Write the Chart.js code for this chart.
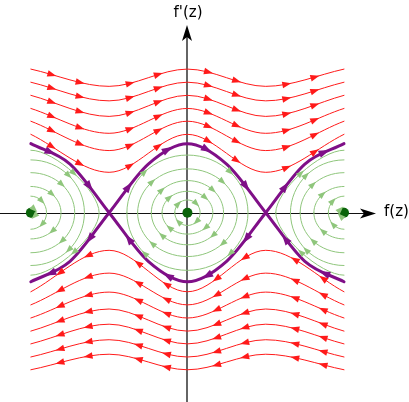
<!DOCTYPE html>
<html>
<head>
<meta charset="utf-8">
<script src="https://cdn.jsdelivr.net/npm/chart.js@4.4.1/dist/chart.umd.min.js"></script>
<style>
  html, body { margin: 0; padding: 0; background: #fff; }
  #wrap { width: 409px; height: 402px; }
</style>
</head>
<body>
<div id="wrap"><canvas id="phase" width="409" height="402"></canvas></div>
<script>
// f positions: -2pi .. 2pi in half periods
const phaseX = [-6.283, -3.142, 0, 3.142, 6.283];
// quarter-period positions used by the separatrix
const sepX = [-6.283, -4.712, -3.142, -1.571, 0, 1.571, 3.142, 4.712, 6.283];

// open orbits above the axis: f' at f = 0, +-2pi (peak) and f = +-pi (trough)
const upperPeak = [4.16, 3.78, 3.40, 3.02, 2.65, 2.27];
const upperTrough = [3.66, 3.24, 2.79, 2.30, 1.80, 1.17];

// open orbits below the axis
const lowerPeak = [-2.29, -2.67, -3.05, -3.43, -3.80, -4.18, -4.55];
const lowerTrough = [-1.09, -1.75, -2.30, -2.79, -3.23, -3.68, -4.10];

// separatrix f' at f = 0, +-pi/2, +-pi
const sepValues = [2.0, 1.41, 0];

// closed orbits round f = 0: half width (f) and height (f')
const innerWidth = [0.51, 1.02, 1.45, 2.00, 2.43];
const innerHeight = [0.37, 0.62, 0.93, 1.27, 1.67];
// closed orbits round f = +-2pi (only the inner half is inside the plot)
const sideWidth = [0.20, 0.63, 1.21, 1.76, 2.15, 2.74];
const sideHeight = [0.14, 0.48, 0.76, 1.16, 1.53, 1.81];

// equilibria on the f axis
const centers = [-6.283, 0, 6.283];

const RED = '#ff1a1a', GREEN = '#8fc67c', PURPLE = '#7f0f87', DOT = '#0a640a';

function wave(peak, trough) {
  const ys = [peak, trough, peak, trough, peak];
  return phaseX.map((x, i) => ({ x: x, y: ys[i] }));
}

// loop drawn bottom -> left -> top -> right -> bottom -> left -> top,
// only the inner segments get proper tangents, the outer two stay hidden
function ring(cx, a, b) {
  return [
    { x: cx, y: -b }, { x: cx - a, y: 0 }, { x: cx, y: b }, { x: cx + a, y: 0 },
    { x: cx, y: -b }, { x: cx - a, y: 0 }, { x: cx, y: b }
  ];
}

function segStyle(show) {
  return { borderColor: ctx => show.includes(ctx.p0DataIndex) ? undefined : 'rgba(0,0,0,0)' };
}

const datasets = [];

datasets.push({
  data: centers.map(x => ({ x: x, y: 0 })),
  showLine: false, pointRadius: 5, pointHoverRadius: 5,
  pointBackgroundColor: DOT, pointBorderColor: DOT, pointBorderWidth: 0
});

// separatrices
const hump = [sepValues[2], sepValues[1], sepValues[0], sepValues[1], sepValues[2]];
const sepUp = [
  [sepX.slice(0, 3), sepValues],
  [sepX.slice(2, 7), hump],
  [sepX.slice(6, 9), [sepValues[2], sepValues[1], sepValues[0]]]
];
[1, -1].forEach(sign => {
  sepUp.forEach(([xs, ys]) => {
    datasets.push({
      data: xs.map((x, i) => ({ x: x, y: sign * ys[i] })),
      borderColor: PURPLE, borderWidth: 3, cubicInterpolationMode: 'monotone',
      arrowSegs: xs.slice(1).map((_, i) => i), arrowDir: sign, arrowSize: [11, 3.8], arrowTs: [0.5]
    });
  });
});

upperPeak.forEach((p, i) => {
  datasets.push({
    data: wave(p, upperTrough[i]),
    borderColor: RED, borderWidth: 1, cubicInterpolationMode: 'monotone',
    arrowSegs: [0, 1, 2, 3], arrowDir: 1, arrowSize: [9, 3.3], arrowTs: [0.27, 0.63]
  });
});
lowerPeak.forEach((p, i) => {
  datasets.push({
    data: wave(p, lowerTrough[i]),
    borderColor: RED, borderWidth: 1, cubicInterpolationMode: 'monotone',
    arrowSegs: [0, 1, 2, 3], arrowDir: -1, arrowSize: [9, 3.3], arrowTs: [0.37, 0.73]
  });
});

innerWidth.forEach((a, i) => {
  datasets.push({
    data: ring(0, a, innerHeight[i]),
    borderColor: GREEN, borderWidth: 1, tension: 0.55,
    segment: segStyle([1, 2, 3, 4]),
    arrowSegs: [1, 2, 3, 4], arrowDir: 1, arrowSize: [8, 3], arrowTs: [0.5]
  });
});
sideWidth.forEach((a, i) => {
  const t = a > 2.5 ? 0.35 : 0.55;
  datasets.push({
    data: ring(centers[0], a, sideHeight[i]),
    borderColor: GREEN, borderWidth: 1, tension: t,
    segment: segStyle([2, 3]),
    arrowSegs: [2, 3], arrowDir: 1, arrowSize: [8, 3], arrowTs: [0.5]
  });
  datasets.push({
    data: ring(centers[2], a, sideHeight[i]),
    borderColor: GREEN, borderWidth: 1, tension: t,
    segment: segStyle([1, 4]),
    arrowSegs: [1, 4], arrowDir: 1, arrowSize: [8, 3], arrowTs: [0.5]
  });
});

const axesPlugin = {
  id: 'phaseAxes',
  beforeDatasetsDraw(chart) {
    const { ctx, scales: { x, y } } = chart;
    const px = Math.round(x.getPixelForValue(0));
    const py = Math.round(y.getPixelForValue(0)) + 0.5;
    ctx.save();
    ctx.strokeStyle = '#111';
    ctx.fillStyle = '#000';
    ctx.lineWidth = 1.3;
    ctx.beginPath();
    ctx.moveTo(px, chart.height);
    ctx.lineTo(px, 36);
    ctx.stroke();
    ctx.lineWidth = 1;
    ctx.beginPath();
    ctx.moveTo(0, py);
    ctx.lineTo(366, py);
    ctx.stroke();
    // arrow heads
    ctx.beginPath();
    ctx.moveTo(px, 25);
    ctx.lineTo(px + 5, 41);
    ctx.lineTo(px, 37);
    ctx.lineTo(px - 5, 41);
    ctx.closePath();
    ctx.fill();
    ctx.beginPath();
    ctx.moveTo(376, py);
    ctx.lineTo(360, py - 5);
    ctx.lineTo(364, py);
    ctx.lineTo(360, py + 5);
    ctx.closePath();
    ctx.fill();
    ctx.font = '15px "DejaVu Sans", sans-serif';
    ctx.textBaseline = 'middle';
    ctx.textAlign = 'center';
    ctx.fillText("f'(z)", px + 1, 13);
    ctx.textAlign = 'left';
    ctx.fillText('f(z)', 384, py - 1);
    ctx.restore();
  }
};

const arrowPlugin = {
  id: 'flowArrows',
  afterDatasetsDraw(chart) {
    const ctx = chart.ctx;
    chart.data.datasets.forEach((ds, di) => {
      if (!ds.arrowSegs) return;
      const pts = chart.getDatasetMeta(di).data;
      const [len, half] = ds.arrowSize;
      ctx.save();
      ctx.fillStyle = ds.borderColor;
      ds.arrowSegs.forEach(i => {
        const p0 = pts[i], p3 = pts[i + 1];
        if (!p0 || !p3) return;
        const p1 = { x: p0.cp2x ?? p0.x, y: p0.cp2y ?? p0.y };
        const p2 = { x: p3.cp1x ?? p3.x, y: p3.cp1y ?? p3.y };
        ds.arrowTs.forEach(t => {
          const u = 1 - t;
          const bx = u * u * u * p0.x + 3 * u * u * t * p1.x + 3 * u * t * t * p2.x + t * t * t * p3.x;
          const by = u * u * u * p0.y + 3 * u * u * t * p1.y + 3 * u * t * t * p2.y + t * t * t * p3.y;
          const dx = 3 * (u * u * (p1.x - p0.x) + 2 * u * t * (p2.x - p1.x) + t * t * (p3.x - p2.x));
          const dy = 3 * (u * u * (p1.y - p0.y) + 2 * u * t * (p2.y - p1.y) + t * t * (p3.y - p2.y));
          let ang = Math.atan2(dy, dx);
          if (ds.arrowDir < 0) ang += Math.PI;
          const c = Math.cos(ang), s = Math.sin(ang);
          ctx.beginPath();
          ctx.moveTo(bx + c * len / 2, by + s * len / 2);
          ctx.lineTo(bx - c * len / 2 - s * half, by - s * len / 2 + c * half);
          ctx.lineTo(bx - c * len / 2 + s * half, by - s * len / 2 - c * half);
          ctx.closePath();
          ctx.fill();
        });
      });
      ctx.restore();
    });
  }
};

new Chart(document.getElementById('phase'), {
  type: 'line',
  data: { datasets: datasets },
  options: {
    responsive: false,
    animation: false,
    events: [],
    layout: { padding: 0 },
    elements: {
      point: { radius: 0, hoverRadius: 0 },
      line: { fill: false, capBezierPoints: false, borderCapStyle: 'round' }
    },
    plugins: { legend: { display: false }, tooltip: { enabled: false } },
    scales: {
      x: { type: 'linear', display: false, min: -7.3205, max: 8.6905 },
      y: { type: 'linear', display: false, min: -5.339, max: 6.0169 }
    }
  },
  plugins: [axesPlugin, arrowPlugin]
});
</script>
</body>
</html>
